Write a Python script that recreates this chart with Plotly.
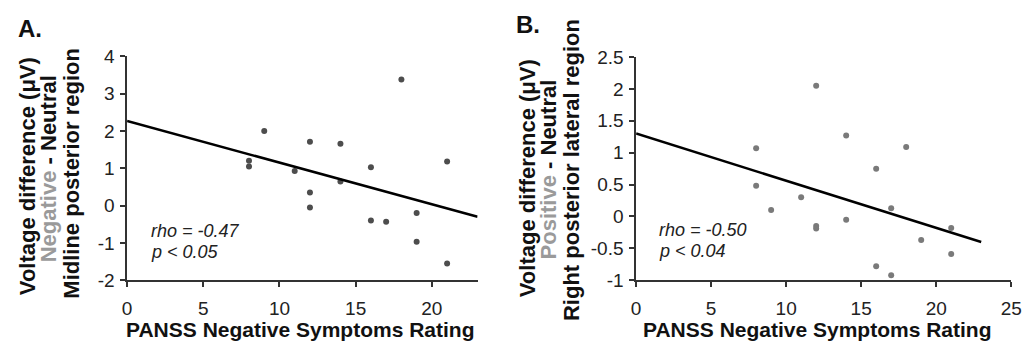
import plotly.graph_objects as go

W, H = 1036, 354

# Panel A data
a_x = [8, 8, 9, 11, 12, 12, 12, 14, 14, 16, 16, 17, 18, 19, 19, 21, 21]
a_y = [1.2, 1.05, 2.0, 0.93, 1.71, 0.35, -0.05, 1.66, 0.65, 1.03, -0.4, -0.43, 3.38, -0.2, -0.97, 1.18, -1.55]
a_fit_x = [0, 23]
a_fit_y = [2.27, -0.3]

# Panel B data
b_x = [8, 8, 9, 11, 12, 12, 12, 14, 14, 16, 16, 17, 17, 18, 19, 21, 21]
b_y = [1.07, 0.48, 0.1, 0.3, 2.05, -0.15, -0.19, 1.27, -0.05, 0.75, -0.78, 0.13, -0.92, 1.09, -0.37, -0.18, -0.59]
b_fit_x = [0, 23]
b_fit_y = [1.3, -0.4]

a_xticks = [0, 5, 10, 15, 20]
a_yticks = [-2, -1, 0, 1, 2, 3, 4]
a_yticktext = ["-2", "-1", "0", "1", "2", "3", "4"]
b_xticks = [0, 5, 10, 15, 20, 25]
b_yticks = [-1, -0.5, 0, 0.5, 1, 1.5, 2, 2.5]
b_yticktext = ["-1", "-0.5", "0", "0.5", "1", "1.5", "2", "2.5"]

FONT = "Arial, Liberation Sans, sans-serif"

def px(x):
    return x / W

def py(y):
    return 1 - y / H

fig = go.Figure()

fig.add_trace(go.Scatter(x=a_x, y=a_y, mode="markers", xaxis="x", yaxis="y",
                         marker=dict(color="#4d4d4d", size=6), showlegend=False))
fig.add_trace(go.Scatter(x=a_fit_x, y=a_fit_y, mode="lines", xaxis="x", yaxis="y",
                         line=dict(color="#000000", width=2.5), showlegend=False))
fig.add_trace(go.Scatter(x=b_x, y=b_y, mode="markers", xaxis="x2", yaxis="y2",
                         marker=dict(color="#7a7a7a", size=6), showlegend=False))
fig.add_trace(go.Scatter(x=b_fit_x, y=b_fit_y, mode="lines", xaxis="x2", yaxis="y2",
                         line=dict(color="#000000", width=2.5), showlegend=False))

axis_common = dict(showgrid=False, zeroline=False, showline=True, linecolor="#333333",
                   linewidth=1.5, ticks="outside", ticklen=5, tickwidth=1.5,
                   tickcolor="#333333", tickfont=dict(family=FONT, size=19, color="#222222"))

fig.update_layout(
    width=W, height=H,
    margin=dict(l=0, r=0, t=0, b=0),
    paper_bgcolor="white", plot_bgcolor="white",
    xaxis=dict(domain=[px(124), px(480)], range=[0, 23], tickvals=a_xticks,
               anchor="y", ticklabelstandoff=5, **axis_common),
    yaxis=dict(domain=[py(287.3), py(49.3)], range=[-2, 4], tickvals=a_yticks,
               ticktext=a_yticktext, anchor="x", ticklabelstandoff=2, **axis_common),
    xaxis2=dict(domain=[px(641), px(1022)], range=[0, 25], tickvals=b_xticks,
                anchor="y2", ticklabelstandoff=5, **axis_common),
    yaxis2=dict(domain=[py(287.3), py(50)], range=[-1, 2.5], tickvals=b_yticks,
                ticktext=b_yticktext, anchor="x2", ticklabelstandoff=2, **axis_common),
)

ann = []
def text(x, y, t, size, bold=False, italic=False, angle=0, xanchor="center", color="#111111"):
    s = t
    if bold:
        s = "<b>" + s + "</b>"
    if italic:
        s = "<i>" + s + "</i>"
    ann.append(dict(x=px(x), y=py(y), xref="paper", yref="paper", text=s, showarrow=False,
                    textangle=angle, xanchor=xanchor, yanchor="middle",
                    font=dict(family=FONT, size=size, color=color)))

# Panel labels
text(25, 20, "A.", 24, bold=True)
text(531, 15, "B.", 24, bold=True)

# Y titles panel A
text(23, 177, "Voltage difference (μV)", 22, bold=True, angle=-90)
text(45, 169, "<span style='color:#9a9a9a'>Negative</span> - Neutral", 22, bold=True, angle=-90)
text(68, 173, "Midline posterior region", 22, bold=True, angle=-90)

# Y titles panel B
text(531, 179, "Voltage difference (μV)", 22, bold=True, angle=-90)
text(553, 169, "<span style='color:#9a9a9a'>Positive</span> - Neutral", 22, bold=True, angle=-90)
text(576, 170, "Right posterior lateral region", 22, bold=True, angle=-90)

# X titles
text(300, 340, "PANSS Negative Symptoms Rating", 21, bold=True)
text(825, 340, "PANSS Negative Symptoms Rating", 21, bold=True)

# Stats
text(146, 235, "rho = -0.47", 18, italic=True, xanchor="left", color="#222222")
text(146, 257, "p < 0.05", 18, italic=True, xanchor="left", color="#222222")
text(662, 234, "rho = -0.50", 18, italic=True, xanchor="left", color="#222222")
text(662, 256, "p < 0.04", 18, italic=True, xanchor="left", color="#222222")

fig.update_layout(annotations=ann)

fig.write_html("out.html")
